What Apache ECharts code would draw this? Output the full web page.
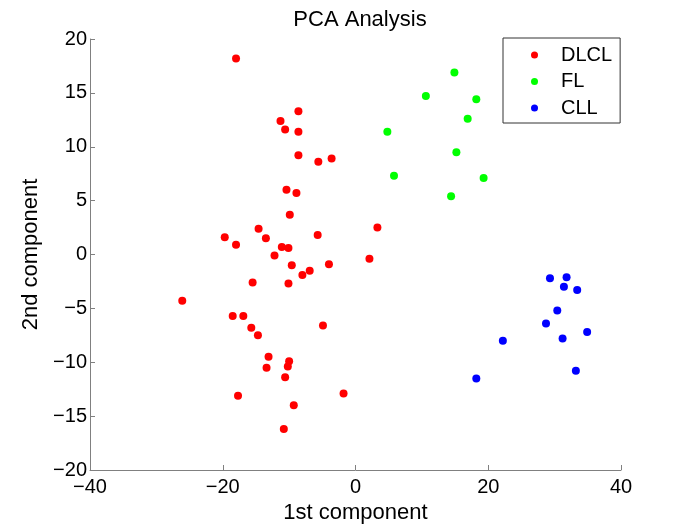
<!DOCTYPE html>
<html>
<head>
<meta charset="utf-8">
<script src="https://cdn.jsdelivr.net/npm/echarts@6/dist/echarts.min.js"></script>
<style>html,body{margin:0;padding:0;background:#fff;}#c{width:685px;height:530px;}</style>
</head>
<body>
<div id="c"></div>
<script>
var seriesNames = ['DLCL', 'FL', 'CLL'];
var dlclX = [-18.0,-8.6,-11.3,-10.6,-8.6,-8.6,-5.6,-3.6,-10.4,-8.9,-9.9,-19.7,-18.0,-14.6,-13.5,-5.7,-11.1,-10.1,-12.2,2.1,3.3,-9.6,-4.0,-6.9,-8.0,-15.5,-10.1,-26.1,-18.5,-16.9,-15.7,-14.7,-4.9,-13.1,-10.0,-13.4,-10.2,-10.6,-17.7,-1.8,-9.3,-10.8];
var dlclY = [18.2,13.3,12.4,11.6,11.4,9.2,8.6,8.9,6.0,5.7,3.7,1.6,0.9,2.4,1.5,1.8,0.7,0.6,-0.1,-0.4,2.5,-1.0,-0.9,-1.5,-1.9,-2.6,-2.7,-4.3,-5.7,-5.7,-6.8,-7.5,-6.6,-9.5,-9.9,-10.5,-10.4,-11.4,-13.1,-12.9,-14.0,-16.2];
var flX = [14.9,10.6,18.2,16.9,4.8,15.2,5.8,19.3,14.4];
var flY = [16.9,14.7,14.4,12.6,11.4,9.5,7.3,7.1,5.4];
var cllX = [29.3,31.8,31.4,33.4,30.4,28.7,34.9,31.2,22.2,33.2,18.2];
var cllY = [-2.2,-2.1,-3.0,-3.3,-5.2,-6.4,-7.2,-7.8,-8.0,-10.8,-11.5];
var colors = ['#ff0000', '#00ff00', '#0000ff'];

function pairs(xs, ys) { return xs.map(function (x, i) { return [x, ys[i]]; }); }
var datasets = [pairs(dlclX, dlclY), pairs(flX, flY), pairs(cllX, cllY)];

var FONT = 'Liberation Sans, Arial, Helvetica, sans-serif';
function fmt(v) { return String(v).replace('-', '\u2212'); }

var chart = echarts.init(document.getElementById('c'), null, { renderer: 'canvas' });
chart.setOption({
  animation: false,
  backgroundColor: '#fff',
  title: {
    text: 'PCA Analysis', left: 355, textAlign: 'center', top: 4,
    textStyle: { fontFamily: FONT, fontSize: 22, fontWeight: 'normal', color: '#000' }
  },
  legend: {
    orient: 'vertical', left: 503, top: 38,
    padding: [7, 8, 5, 28], itemGap: 6.5,
    itemWidth: 25, itemHeight: 7, icon: 'circle',
    borderColor: '#333', borderWidth: 1, backgroundColor: '#fff',
    textStyle: { fontFamily: FONT, fontSize: 20, color: '#000', lineHeight: 20, padding: [0, 0, 0, 9] },
    data: seriesNames
  },
  grid: { left: 90, right: 64, top: 39, bottom: 60, containLabel: false },
  xAxis: {
    type: 'value', min: -40, max: 40, interval: 20,
    name: '1st component', nameLocation: 'middle', nameGap: 28,
    nameTextStyle: { fontFamily: FONT, fontSize: 22, color: '#000' },
    axisLine: { show: true, onZero: false, lineStyle: { color: '#808080', width: 1 } },
    axisTick: { show: true, inside: true, length: 5, lineStyle: { color: '#808080' } },
    axisLabel: { fontFamily: FONT, fontSize: 20, color: '#000', margin: 7, formatter: fmt },
    splitLine: { show: false }
  },
  yAxis: {
    type: 'value', min: -20, max: 20, interval: 5,
    name: '2nd component', nameLocation: 'middle', nameGap: 43,
    nameTextStyle: { fontFamily: FONT, fontSize: 22, color: '#000' },
    axisLine: { show: true, onZero: false, lineStyle: { color: '#808080', width: 1 } },
    axisTick: { show: true, inside: true, length: 5, lineStyle: { color: '#808080' } },
    axisLabel: { fontFamily: FONT, fontSize: 20, color: '#000', margin: 3, formatter: fmt },
    splitLine: { show: false }
  },
  series: seriesNames.map(function (n, i) {
    return {
      name: n, type: 'scatter', data: datasets[i], symbol: 'circle', symbolSize: 8,
      itemStyle: { color: colors[i], opacity: 1 }
    };
  })
});
</script>
</body>
</html>
